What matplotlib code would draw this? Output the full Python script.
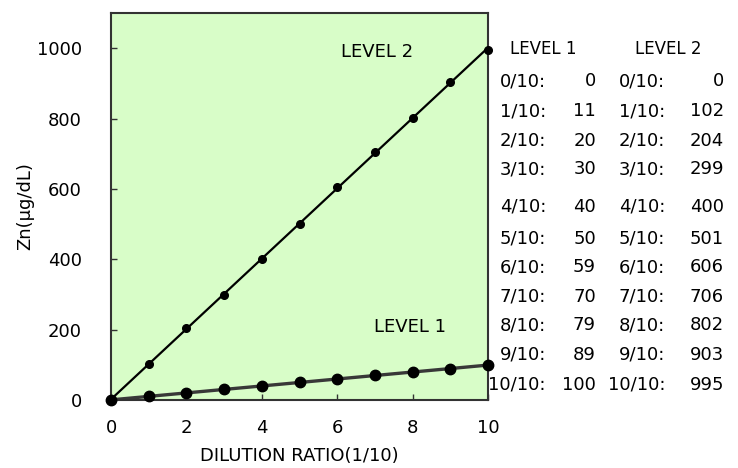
import numpy as np
import matplotlib.pyplot as plt

# Datos de la dilución
ratio = [0, 1, 2, 3, 4, 5, 6, 7, 8, 9, 10]
level1 = [0, 11, 20, 30, 40, 50, 59, 70, 79, 89, 100]
level2 = [0, 102, 204, 299, 400, 501, 606, 706, 802, 903, 995]
row_labels = ["0/10:", "1/10:", "2/10:", "3/10:", "4/10:", "5/10:",
              "6/10:", "7/10:", "8/10:", "9/10:", "10/10:"]

plt.rcParams['font.family'] = ['DejaVu Sans']
fs = 13

fig = plt.figure(figsize=(7.38, 4.68), dpi=100)
ax = fig.add_axes([111/738, 1 - 400/468, (488-111)/738, (400-13)/468])
ax.set_facecolor('#d8fdc8')

x = np.array(ratio)
xx = np.array([0, 10])

# Rectas de ajuste
p1 = np.polyfit(x, level1, 1)
p2 = np.polyfit(x, level2, 1)
ax.plot(xx, np.polyval(p1, xx), color='#383838', lw=2.4, clip_on=False, zorder=2)
ax.plot(xx, np.polyval(p2, xx), color='black', lw=1.6, clip_on=False, zorder=2)

# Puntos
ax.plot(ratio, level1, 'o', color='black', ms=7.5, clip_on=False, zorder=3)
ax.plot(ratio, level2, 'o', color='black', ms=5.5, clip_on=False, zorder=3)

ax.text(7.06, 989, "LEVEL 2", ha='center', va='center', fontsize=fs)
ax.text(7.93, 207, "LEVEL 1", ha='center', va='center', fontsize=fs)

ax.set_xlim(0, 10)
ax.set_ylim(0, 1100)
ax.set_xticks([0, 2, 4, 6, 8, 10])
ax.set_yticks([0, 200, 400, 600, 800, 1000])
ax.tick_params(direction='in', length=4, width=1, color='#333333', labelsize=fs)
ax.tick_params(axis='y', pad=21)
ax.tick_params(axis='x', pad=14)
for s in ax.spines.values():
    s.set_color('#333333')
    s.set_linewidth(1.5)

ax.set_xlabel("DILUTION RATIO(1/10)", fontsize=fs, labelpad=7)
ax.set_ylabel("Zn(μg/dL)", fontsize=fs, labelpad=2)

# Tabla de valores a la derecha
def fx(px):
    return px / 738

def fy(py):
    return 1 - py / 468

fig.text(fx(543), fy(54), "LEVEL 1", ha='center', va='baseline', fontsize=fs - 1)
fig.text(fx(668), fy(54), "LEVEL 2", ha='center', va='baseline', fontsize=fs - 1)
rows_y = [80, 110, 139, 168, 205, 237, 266, 295, 324, 353, 383]
for lab, v1, v2, py in zip(row_labels, level1, level2, rows_y):
    yb = fy(py + 6.5)
    fig.text(fx(546), yb, lab, ha='right', va='baseline', fontsize=fs)
    fig.text(fx(596), yb, str(v1), ha='right', va='baseline', fontsize=fs)
    fig.text(fx(665), yb, lab, ha='right', va='baseline', fontsize=fs)
    fig.text(fx(724), yb, str(v2), ha='right', va='baseline', fontsize=fs)

plt.savefig("out.png", dpi=100)
